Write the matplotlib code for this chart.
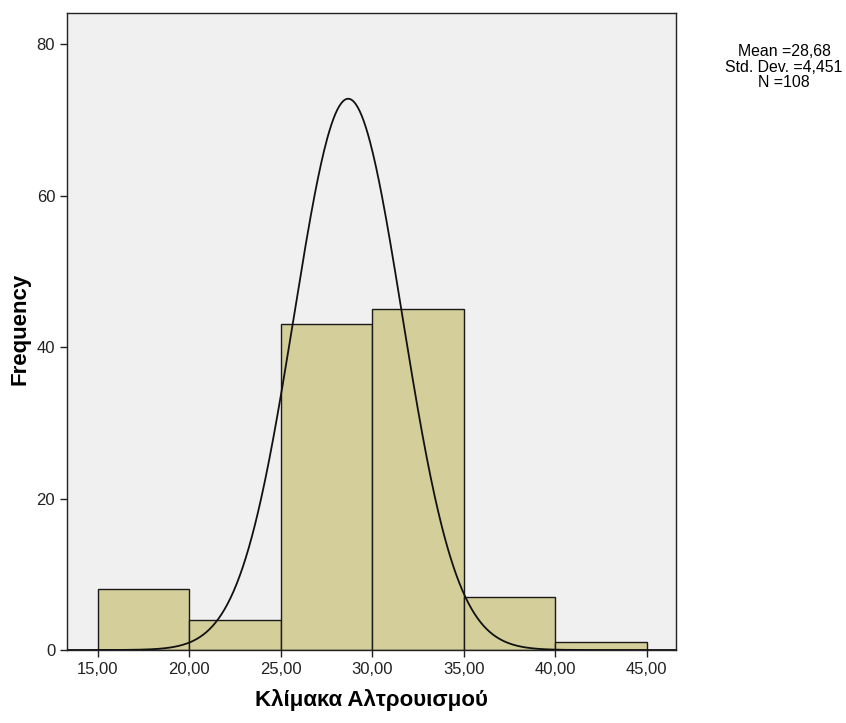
import numpy as np
import matplotlib
matplotlib.use("Agg")
import matplotlib.pyplot as plt

bin_edges = [15, 20, 25, 30, 35, 40, 45]
counts = [8, 4, 43, 45, 7, 1]
xtick_vals = [15, 20, 25, 30, 35, 40, 45]
xtick_labels = ["15,00", "20,00", "25,00", "30,00", "35,00", "40,00", "45,00"]
ytick_vals = [0, 20, 40, 60, 80]
curve_mean = 28.68
curve_sd = 2.96
curve_area = 540.0
stats_text = "Mean =28,68\nStd. Dev. =4,451\nN =108"

plt.rcParams['font.family'] = ['Liberation Sans', 'DejaVu Sans']

fig = plt.figure(figsize=(8.46, 7.23), dpi=100)
ax = fig.add_axes([67/846, 1-650/723, (676-67)/846, (650-13)/723])
ax.set_facecolor('#F0F0F0')

lefts = bin_edges[:-1]
widths = np.diff(bin_edges)
ax.bar(lefts, counts, width=widths, align='edge', color='#D3CE9A',
       edgecolor='#1a1a1a', linewidth=1.0, zorder=2)

xs = np.linspace(13.3, 46.6, 600)
ys = curve_area / (curve_sd * np.sqrt(2*np.pi)) * np.exp(-(xs-curve_mean)**2/(2*curve_sd**2))
ax.plot(xs, ys, color='#111111', linewidth=1.3, zorder=3)

ax.set_xlim(13.31, 46.6)
ax.set_ylim(0, 84.1)
ax.set_xticks(xtick_vals)
ax.set_xticklabels(xtick_labels)
ax.set_yticks(ytick_vals)
ax.tick_params(axis='both', labelsize=12, color='#222222', length=5, width=1, labelcolor='#222222')
for s in ax.spines.values():
    s.set_color('#222222')
    s.set_linewidth(1.0)

ax.set_xlabel("Κλίμακα Αλτρουισμού", fontsize=16, fontweight='bold', va='center')
ax.xaxis.set_label_coords(0.5, -0.0785)
ax.set_ylabel("Frequency", fontsize=16, fontweight='bold', va='center')
ax.yaxis.set_label_coords(-0.077, 0.504)

fig.text(784/846, 1-67/723, stats_text, ha='center', va='center', fontsize=11.4, linespacing=1.05)

fig.savefig("out.png", dpi=100)
